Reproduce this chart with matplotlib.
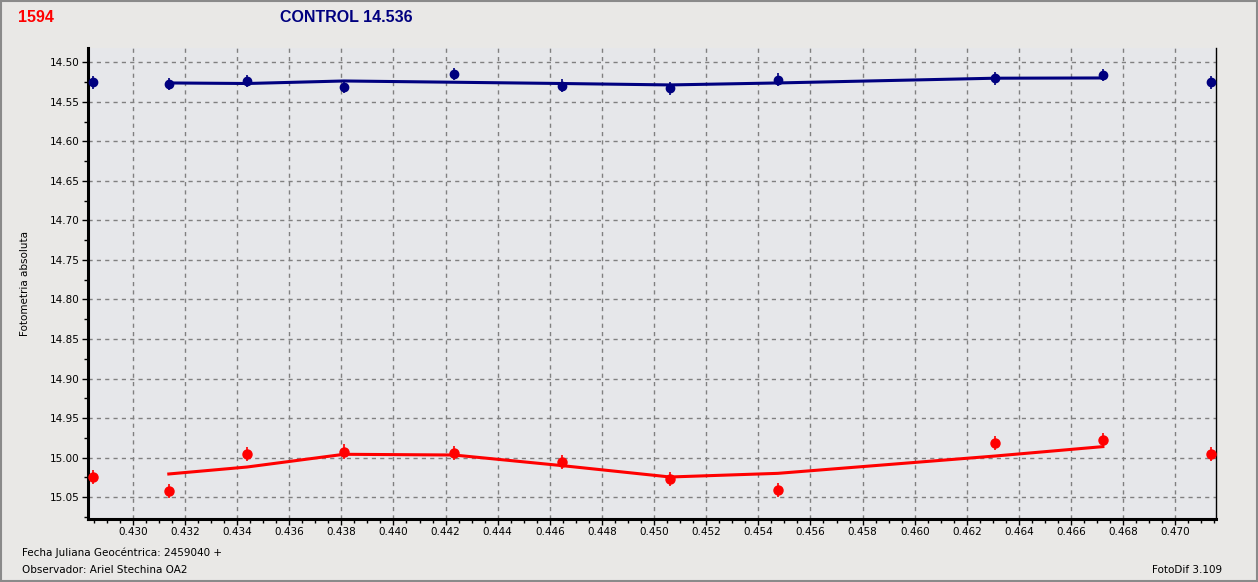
import matplotlib
matplotlib.use("Agg")
import matplotlib.pyplot as plt
from matplotlib.ticker import MultipleLocator, FormatStrFormatter
from matplotlib.patches import Rectangle

# ---- data ----
jd = [0.42848, 0.43138, 0.43438, 0.43810, 0.44232, 0.44646, 0.45061,
      0.45475, 0.46308, 0.46722, 0.47136]
control_mag = [14.5253, 14.5274, 14.5237, 14.5312, 14.5148, 14.5295, 14.5329,
               14.5219, 14.5202, 14.5161, 14.5253]
control_fit = [14.5262, 14.5269, 14.5237, 14.5253, 14.5269, 14.5287, 14.5262,
               14.5202, 14.5199]
target_mag = [15.0245, 15.0423, 14.9954, 14.9924, 14.9946, 15.0056, 15.0271,
              15.0410, 14.9815, 14.9777, 14.9954]
target_fit = [15.0207, 15.0119, 14.9958, 14.9967, 15.0101, 15.0245, 15.0199,
              14.9980, 14.9861]
control_err = 0.008
target_err = 0.009
x_ticks = [0.430, 0.432, 0.434, 0.436, 0.438, 0.440, 0.442, 0.444, 0.446,
           0.448, 0.450, 0.452, 0.454, 0.456, 0.458, 0.460, 0.462, 0.464,
           0.466, 0.468, 0.470]
y_ticks = [14.50, 14.55, 14.60, 14.65, 14.70, 14.75, 14.80, 14.85, 14.90,
           14.95, 15.00, 15.05]

NAVY = "#00007f"
RED = "#ff0000"
FONT = "DejaVu Sans"

fig = plt.figure(figsize=(12.58, 5.82), dpi=100, facecolor="#e9e8e6")
ax = fig.add_axes([88/1258, 1-518.5/582, (1216-88)/1258, (518.5-48)/582])
ax.set_facecolor("#e6e7ea")

ax.set_xlim(0.42828, 0.47156)
ax.set_ylim(15.077, 14.482)

ax.set_xticks(x_ticks)
ax.set_yticks(y_ticks)
ax.xaxis.set_major_formatter(FormatStrFormatter("%.3f"))
ax.yaxis.set_major_formatter(FormatStrFormatter("%.2f"))
ax.xaxis.set_minor_locator(MultipleLocator(0.0005))
ax.yaxis.set_minor_locator(MultipleLocator(0.025))
ax.tick_params(axis="both", which="major", length=4, width=1, labelsize=7.5,
               colors="black", pad=2)
ax.tick_params(axis="both", which="minor", length=3, width=1)
for lab in ax.get_xticklabels() + ax.get_yticklabels():
    lab.set_family(FONT)

ax.grid(True, which="major", color="#808080", linestyle=(0, (3, 3)), linewidth=1)
ax.set_axisbelow(True)

for s in ["left", "bottom"]:
    ax.spines[s].set_linewidth(2.2)
    ax.spines[s].set_color("black")
ax.spines["right"].set_linewidth(1.0)
ax.spines["right"].set_color("black")
ax.spines["top"].set_visible(False)

# fitted lines (between 2nd and 10th points)
ax.plot(jd[1:10], control_fit, color=NAVY, linewidth=2.2, zorder=3)
ax.plot(jd[1:10], target_fit, color=RED, linewidth=2.2, zorder=3)

# points with error bars
ax.errorbar(jd, control_mag, yerr=control_err, fmt="o", color=NAVY,
            markersize=6, elinewidth=1.2, capsize=0, zorder=4)
ax.errorbar(jd, target_mag, yerr=target_err, fmt="o", color=RED,
            markersize=6.5, elinewidth=1.2, capsize=0, zorder=4)

ax.set_ylabel("Fotometria absoluta", family=FONT, fontsize=7.5, labelpad=14)

fig.text(18/1258, 1-18/582, "1594", color=RED, fontsize=11.5, fontweight="bold",
         family="Liberation Sans", va="center", ha="left")
fig.text(280/1258, 1-18/582, "CONTROL 14.536", color=NAVY, fontsize=11.5,
         fontweight="bold", family="Liberation Sans", va="center", ha="left")
fig.text(22/1258, 1-553/582, "Fecha Juliana Geocéntrica: 2459040 +", family=FONT,
         fontsize=7.5, va="center", ha="left")
fig.text(22/1258, 1-570/582, "Observador: Ariel Stechina OA2", family=FONT,
         fontsize=7.5, va="center", ha="left")
fig.text(1222/1258, 1-570/582, "FotoDif 3.109", family=FONT, fontsize=7.5,
         va="center", ha="right")

fig.patches.append(Rectangle((0.0008, 0.0017), 0.9984, 0.9966, transform=fig.transFigure,
                             fill=False, edgecolor="#8a8a8a", linewidth=1.5))

fig.savefig("out.png", dpi=100, facecolor=fig.get_facecolor())
